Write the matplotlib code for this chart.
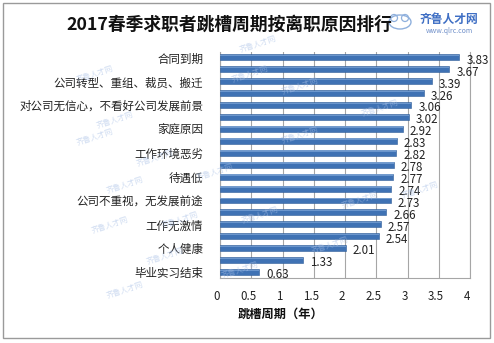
import matplotlib
matplotlib.use("Agg")
import matplotlib.pyplot as plt
from matplotlib.patches import Rectangle, Ellipse
from matplotlib.transforms import ScaledTranslation
import numpy as np

plt.rcParams['font.family'] = ['Noto Sans CJK SC', 'DejaVu Sans']

title = "2017春季求职者跳槽周期按离职原因排行"
xlabel = "跳槽周期（年）"

# every other bar carries a category label
labels = ["合同到期", "公司转型、重组、裁员、搬迁", "对公司无信心，不看好公司发展前景",
          "家庭原因", "工作环境恶劣", "待遇低", "公司不重视，无发展前途",
          "工作无激情", "个人健康", "毕业实习结束"]
values = [3.83, 3.67, 3.39, 3.26, 3.06, 3.02, 2.92, 2.83, 2.82, 2.78,
          2.77, 2.74, 2.73, 2.66, 2.57, 2.54, 2.01, 1.33, 0.63]
xticks = [0, 0.5, 1, 1.5, 2, 2.5, 3, 3.5, 4]
xticklabels = ["0", "0.5", "1", "1.5", "2", "2.5", "3", "3.5", "4"]

W, H = 494, 343
fig = plt.figure(figsize=(W / 100, H / 100), dpi=100)
fig.patch.set_facecolor("white")

def fx(px):
    return px / W

def fy(py):
    return 1 - py / H

# outer chart frame
fig.add_artist(Rectangle((fx(3), fy(338)), fx(487), (335) / H, transform=fig.transFigure,
                         fill=False, edgecolor="#9a9a9a", linewidth=1.0))

ax = fig.add_axes([fx(220), fy(278), fx(250), (278 - 51.5) / H])
y = np.arange(len(values))
bar_color = "#3F72B4"
ax.barh(y, values, height=0.5, color=bar_color, edgecolor="#2F5E9A", linewidth=0.4, zorder=3)
# light sheen along the upper side of each bar
ax.barh(y - 0.15, values, height=0.12, color="#7FA6D8", linewidth=0, zorder=4, alpha=0.7)

ax.set_xlim(0, 4)
ax.set_ylim(len(values) - 0.5, -0.5)
ax.set_xticks(xticks)
ax.set_xticklabels(xticklabels, fontsize=8.3, color="#222222")
ax.set_yticks(y[::2])
ax.set_yticklabels(labels, fontsize=8.3, color="#222222")
ax.tick_params(axis="both", length=0)
ax.tick_params(axis="x", pad=9)
ax.tick_params(axis="y", pad=12)
for lab in ax.get_xticklabels():
    lab.set_transform(lab.get_transform() + ScaledTranslation(-3 / 100, 0, fig.dpi_scale_trans))

ax.grid(axis="x", color="#a6a6a6", linewidth=0.8, zorder=0)
for side in ("top",):
    ax.spines[side].set_visible(False)
for side in ("left", "bottom", "right"):
    ax.spines[side].set_color("#a6a6a6")
    ax.spines[side].set_linewidth(0.8)

for yi, v in zip(y, values):
    ax.annotate(f"{v:.2f}", xy=(v, yi), xytext=(5, -2), textcoords="offset points",
                ha="left", va="center", fontsize=8.3, color="#222222", zorder=5)

fig.text(fx(229), fy(25), title, ha="center", va="center", fontsize=12.8,
         fontweight="bold", color="#111111")
fig.text(fx(281), fy(314), xlabel, ha="center", va="center", fontsize=8.8,
         fontweight="bold", color="#111111")

# site logo in the upper right corner
logo_blue = "#3F6FC4"
fig.add_artist(Ellipse((fx(400), fy(22)), 22 / W, 14 / H, transform=fig.transFigure,
                       fill=False, edgecolor="#8fb0dd", linewidth=1.0))
for cx in (394, 405):
    fig.add_artist(Ellipse((fx(cx), fy(18)), 7 / W, 7 / H, transform=fig.transFigure,
                           fill=False, edgecolor="#8fb0dd", linewidth=0.9))
fig.text(fx(449), fy(19), "齐鲁人才网", ha="center", va="center", fontsize=8.5,
         fontweight="bold", color=logo_blue)
fig.text(fx(449), fy(31), "www.qlrc.com", ha="center", va="center", fontsize=5,
         color="#6f8fc9")

# faint site watermarks
marks = [(258, 44), (300, 86), (250, 74), (95, 74), (115, 120), (155, 158), (95, 137),
         (125, 185), (215, 172), (110, 225), (180, 220), (165, 256), (125, 290), (240, 270),
         (330, 245), (360, 200), (420, 190), (300, 135), (380, 108), (260, 215)]
for mx, my in marks:
    fig.text(fx(mx), fy(my), "齐鲁人才网", ha="center", va="center", fontsize=5.5,
             rotation=18, color="#a9c0e6", alpha=0.55, zorder=10)

fig.savefig("out.png", dpi=100)
